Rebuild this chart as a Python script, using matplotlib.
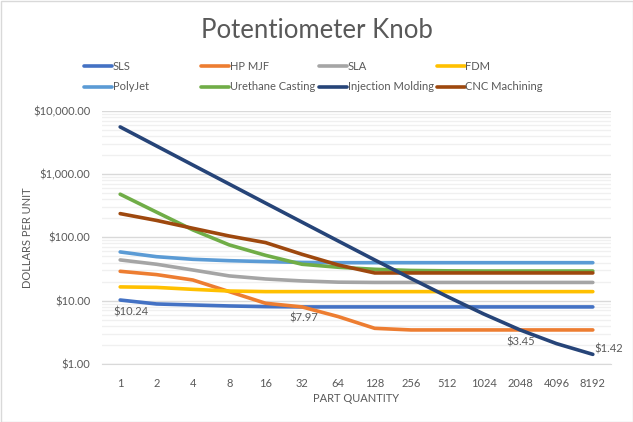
import numpy as np
import matplotlib.pyplot as plt
from matplotlib.lines import Line2D
from matplotlib.patches import Rectangle
from matplotlib.ticker import FixedLocator, LogLocator, NullFormatter

plt.rcParams['font.family'] = ['Lato', 'DejaVu Sans']

# datos
cantidades = ['1', '2', '4', '8', '16', '32', '64', '128', '256', '512', '1024', '2048', '4096', '8192']
series = {
    'SLS': [10.24, 8.87, 8.55, 8.25, 8.05, 7.97, 7.97, 7.97, 7.97, 7.97, 7.97, 7.97, 7.97, 7.97],
    'HP MJF': [29.1, 25.8, 21.2, 13.9, 9.1, 7.97, 5.6, 3.66, 3.45, 3.45, 3.45, 3.45, 3.45, 3.45],
    'SLA': [44.0, 37.6, 30.5, 24.6, 22.0, 20.5, 19.6, 19.4, 19.4, 19.4, 19.4, 19.4, 19.4, 19.4],
    'FDM': [16.5, 16.2, 15.1, 14.2, 13.9, 13.9, 13.9, 13.9, 13.9, 13.9, 13.9, 13.9, 13.9, 13.9],
    'PolyJet': [58.8, 49.5, 45.0, 42.8, 41.4, 40.2, 39.8, 39.8, 39.8, 39.8, 39.8, 39.8, 39.8, 39.8],
    'Urethane Casting': [480, 250, 131, 76, 52, 37.6, 33.7, 31.3, 30.0, 29.6, 29.4, 29.4, 29.4, 29.4],
    'Injection Molding': [5544, 2772, 1386, 694, 347, 174, 87.4, 44.0, 22.4, 11.6, 6.16, 3.45, 2.10, 1.42],
    'CNC Machining': [237, 185, 139, 105, 82.6, 54, 36.6, 27.4, 27.4, 27.4, 27.4, 27.4, 27.4, 27.4],
}
colores = {
    'SLS': '#4472C4', 'HP MJF': '#ED7D31', 'SLA': '#A5A5A5', 'FDM': '#FFC000',
    'PolyJet': '#5B9BD5', 'Urethane Casting': '#70AD47',
    'Injection Molding': '#264478', 'CNC Machining': '#9E480E',
}
# etiquetas de datos: (serie, indice, texto, desplazamiento en pixeles)
etiquetas = [
    ('SLS', 0, '$10.24', (11, -12)),
    ('HP MJF', 5, '$7.97', (2, -11)),
    ('HP MJF', 11, '$3.45', (1, -12)),
    ('Injection Molding', 13, '$1.42', (16, 5)),
]

gris = '#595959'
fs = 8
fig = plt.figure(figsize=(6.33, 4.22), dpi=100)
ax = fig.add_axes([102 / 633, 1 - 364 / 422, 509 / 633, (364 - 110.7) / 422])

x = np.arange(len(cantidades))
orden = ['SLS', 'HP MJF', 'SLA', 'FDM', 'PolyJet', 'Urethane Casting', 'Injection Molding', 'CNC Machining']
zorden = {'Injection Molding': 10}
for nombre in orden:
    ax.plot(x, series[nombre], color=colores[nombre], lw=2.6, solid_capstyle='round',
            solid_joinstyle='round', zorder=zorden.get(nombre, 5))

ax.set_yscale('log')
ax.set_ylim(1, 10000)
ax.set_xlim(-0.5, len(cantidades) - 0.5)
ax.set_xticks(x)
ax.set_xticklabels(cantidades)
ax.yaxis.set_major_locator(FixedLocator([1, 10, 100, 1000, 10000]))
ax.set_yticklabels(['$1.00', '$10.00', '$100.00', '$1,000.00', '$10,000.00'])
ax.yaxis.set_minor_locator(LogLocator(base=10, subs=np.arange(2, 10)))
ax.yaxis.set_minor_formatter(NullFormatter())
ax.grid(axis='y', which='major', color='#D9D9D9', lw=1.0, zorder=0)
ax.grid(axis='y', which='minor', color='#F0F0F0', lw=1.0, zorder=0)
ax.set_axisbelow(True)
ax.tick_params(axis='both', which='both', length=0, colors=gris, labelsize=fs)
ax.tick_params(axis='x', pad=10)
ax.tick_params(axis='y', pad=8.5)
for s in ['top', 'right', 'left']:
    ax.spines[s].set_visible(False)
ax.spines['bottom'].set_color('#D9D9D9')

ax.set_xlabel('PART QUANTITY', color=gris, fontsize=fs, labelpad=3)
ax.set_ylabel('DOLLARS PER UNIT', color=gris, fontsize=fs)
ax.yaxis.set_label_coords((33 - 102) / 509, 0.5)

for nombre, i, texto, desp in etiquetas:
    ax.annotate(texto, (x[i], series[nombre][i]), xytext=desp, textcoords='offset pixels',
                ha='center', va='center', color=gris, fontsize=fs)

fig.text(0.5, 1 - 31 / 422, 'Potentiometer Knob', ha='center', va='center',
         color=gris, fontsize=18.5)

# leyenda manual en dos filas de cuatro
for k, nombre in enumerate(orden):
    fila, col = divmod(k, 4)
    x0 = (84 + col * 117.5) / 633
    y0 = 1 - (66 + fila * 21) / 422
    fig.add_artist(Line2D([x0, x0 + 28 / 633], [y0, y0], color=colores[nombre], lw=2.6,
                          solid_capstyle='round'))
    fig.text(x0 + 29 / 633, y0, nombre, ha='left', va='center', color=gris, fontsize=fs)

fig.add_artist(Rectangle((0.5 / 633, 0.5 / 422), 1 - 1 / 633, 1 - 1 / 422,
                         transform=fig.transFigure, fill=False, ec='#D9D9D9', lw=1))

fig.savefig('out.png', dpi=100)
